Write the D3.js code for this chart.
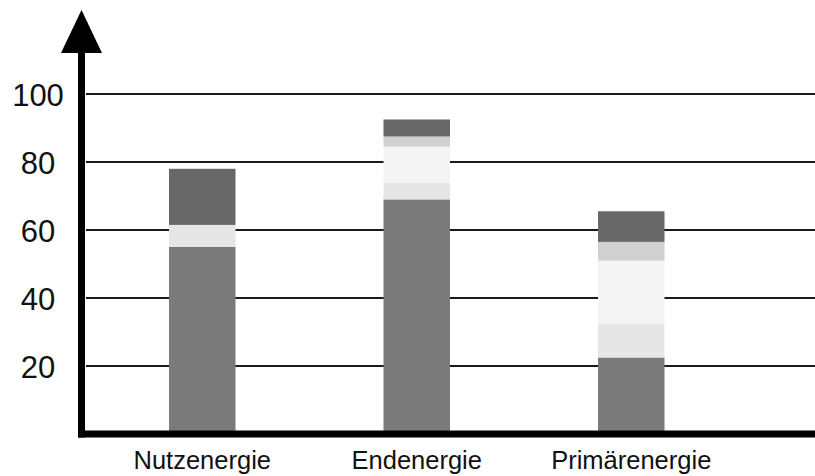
<!DOCTYPE html>
<html>
<head>
<meta charset="utf-8">
<script src="https://cdn.jsdelivr.net/npm/d3@7"></script>
<style>
    body { margin: 0; background: #fff; }
    svg { display: block; font-family: "Liberation Sans", Arial, sans-serif; }
</style>
</head>
<body>
<svg id="chart" width="815" height="476"></svg>
<script>
const categories = ["Nutzenergie", "Endenergie", "Primärenergie"]
const seriesKeys = ["s1", "s2", "s3", "s4", "s5"]
const s1 = [55, 69, 22.5]
const s2 = [6.5, 5, 10]
const s3 = [0, 10.5, 18.5]
const s4 = [0, 3, 5.5]
const s5 = [16.5, 5, 9]
const yTicks = [20, 40, 60, 80, 100]

const colors = {
    s1: "#7a7a7a",
    s2: "#e6e6e6",
    s3: "#f4f4f4",
    s4: "#d0d0d0",
    s5: "#686868"
}

const rows = categories.map((c, i) => ({
    cat: c, s1: s1[i], s2: s2[i], s3: s3[i], s4: s4[i], s5: s5[i]
}))

const svg = d3.select("#chart")

const scaleX = d3.scaleBand()
    .domain(categories)
    .range([95, 738.5])
    .paddingInner(0.69)
    .paddingOuter(0.345)

const scaleY = d3.scaleLinear()
    .domain([0, 100])
    .range([434, 94])

// gridlines behind the bars
svg.append("g")
    .selectAll("line")
    .data(yTicks)
    .join("line")
    .attr("x1", 86)
    .attr("x2", 815)
    .attr("y1", d => scaleY(d))
    .attr("y2", d => scaleY(d))
    .attr("stroke", "#1a1a1a")
    .attr("stroke-width", 2)

const stacked = d3.stack().keys(seriesKeys)(rows)

svg.append("g")
    .selectAll("g")
    .data(stacked)
    .join("g")
    .attr("fill", d => colors[d.key])
    .selectAll("rect")
    .data(d => d.filter(p => p[1] > p[0]))
    .join("rect")
    .attr("x", d => scaleX(d.data.cat))
    .attr("width", scaleX.bandwidth())
    .attr("y", d => scaleY(d[1]))
    .attr("height", d => scaleY(d[0]) - scaleY(d[1]))

// y tick labels
const yAxis = d3.axisLeft(scaleY).tickValues(yTicks).tickSize(0).tickPadding(0)
const yg = svg.append("g")
    .attr("transform", "translate(38,0)")
    .call(yAxis)
yg.select(".domain").remove()
yg.selectAll("text")
    .attr("x", 0)
    .attr("dy", "0.36em")
    .attr("text-anchor", "middle")
    .attr("font-size", 31)
    .attr("font-family", "Liberation Sans, Arial, sans-serif")
    .attr("fill", "#111")

// axes with arrow
svg.append("line")
    .attr("x1", 81.5).attr("x2", 81.5)
    .attr("y1", 437.5).attr("y2", 48)
    .attr("stroke", "#000")
    .attr("stroke-width", 7)

svg.append("line")
    .attr("x1", 78).attr("x2", 815)
    .attr("y1", 434).attr("y2", 434)
    .attr("stroke", "#000")
    .attr("stroke-width", 7)

svg.append("path")
    .attr("d", "M81.5,10 L61,53 L102,53 Z")
    .attr("fill", "#000")

// category labels
const xAxis = d3.axisBottom(scaleX).tickSize(0).tickPadding(0)
const xg = svg.append("g")
    .attr("transform", "translate(0,469)")
    .call(xAxis)
xg.select(".domain").remove()
xg.selectAll("text")
    .attr("y", 0)
    .attr("dy", 0)
    .attr("font-size", 25.5)
    .attr("font-family", "Liberation Sans, Arial, sans-serif")
    .attr("fill", "#111")
</script>
</body>
</html>
